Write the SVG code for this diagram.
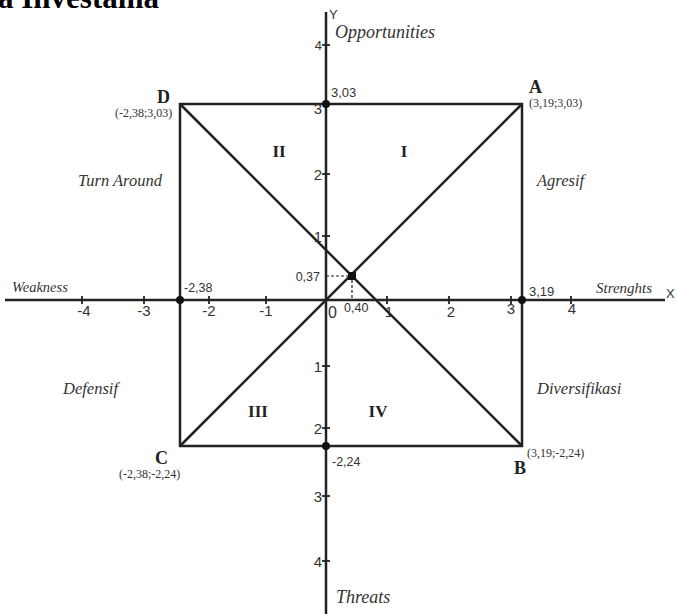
<svg xmlns="http://www.w3.org/2000/svg" width="677" height="614" viewBox="0 0 677 614">
<style>
.ln{stroke:#222;stroke-width:2.5;fill:none}
.tk{stroke:#222;stroke-width:1.8}
.dash{stroke:#222;stroke-width:1.2;stroke-dasharray:3,2;fill:none}
.num{font-family:"Liberation Sans",Arial,sans-serif;font-size:15px;fill:#333}
.sm{font-family:"Liberation Sans",Arial,sans-serif;font-size:12.5px;fill:#333}
.it{font-family:"Liberation Serif","Times New Roman",serif;font-style:italic;fill:#333}
.bl{font-family:"Liberation Serif","Times New Roman",serif;font-weight:bold;fill:#222}
.co{font-family:"Liberation Serif","Times New Roman",serif;font-size:12px;fill:#333}
.dot{fill:#111}
</style>
<rect width="677" height="614" fill="#fff"/>
<text x="-2" y="8" class="bl" style="font-size:31px;fill:#000">a Investama</text>

<g id="axes">
<line class="ln" x1="5" y1="300" x2="665" y2="300"/>
<line class="ln" x1="326" y1="12" x2="326" y2="614"/>
<g class="tk">
<line x1="82" y1="296" x2="82" y2="304"/>
<line x1="144" y1="296" x2="144" y2="304"/>
<line x1="209" y1="296" x2="209" y2="304"/>
<line x1="266" y1="296" x2="266" y2="304"/>
<line x1="387" y1="296" x2="387" y2="304"/>
<line x1="449" y1="296" x2="449" y2="304"/>
<line x1="511" y1="296" x2="511" y2="304"/>
<line x1="571" y1="296" x2="571" y2="304"/>
<line x1="322" y1="45" x2="330" y2="45"/>
<line x1="322" y1="174" x2="330" y2="174"/>
<line x1="322" y1="236" x2="330" y2="236"/>
<line x1="322" y1="366" x2="330" y2="366"/>
<line x1="322" y1="428" x2="330" y2="428"/>
<line x1="322" y1="496" x2="330" y2="496"/>
<line x1="322" y1="561" x2="330" y2="561"/>
</g>
<text x="329" y="19" class="sm" style="font-size:13px">Y</text>
<text x="666" y="298" class="sm" style="font-size:13px">X</text>
</g>

<g id="connectors">
<rect class="ln" x="180" y="104" width="342" height="342"/>
<line class="ln" x1="180" y1="104" x2="522" y2="446"/>
<line class="ln" x1="180" y1="446" x2="522" y2="104"/>
<polyline class="dash" points="326,276 352,276 352,300"/>
</g>

<g id="points">
<circle class="dot" cx="326" cy="104" r="4"/>
<circle class="dot" cx="180" cy="300" r="4"/>
<circle class="dot" cx="522" cy="300" r="4"/>
<circle class="dot" cx="326" cy="446" r="4"/>
<rect class="dot" x="348" y="272" width="8" height="8"/>
</g>

<g id="tick-labels">
<text x="84" y="316" class="num" text-anchor="middle">-4</text>
<text x="144" y="316" class="num" text-anchor="middle">-3</text>
<text x="209" y="316" class="num" text-anchor="middle">-2</text>
<text x="266" y="316" class="num" text-anchor="middle">-1</text>
<text x="328" y="318" class="num" style="font-size:16px">0</text>
<text x="389" y="317" class="num" text-anchor="middle">1</text>
<text x="451" y="317" class="num" text-anchor="middle">2</text>
<text x="511" y="314" class="num" text-anchor="middle">3</text>
<text x="572" y="314" class="num" text-anchor="middle">4</text>
<text x="322" y="50" class="num" style="font-size:13px" text-anchor="end">4</text>
<text x="322" y="114" class="num" text-anchor="end">3</text>
<text x="322" y="180" class="num" text-anchor="end">2</text>
<text x="322" y="242" class="num" text-anchor="end">1</text>
<text x="322" y="372" class="num" text-anchor="end">1</text>
<text x="322" y="434" class="num" text-anchor="end">2</text>
<text x="322" y="502" class="num" text-anchor="end">3</text>
<text x="322" y="567" class="num" text-anchor="end">4</text>
<text x="331" y="97" class="sm" style="font-size:13px">3,03</text>
<text x="184" y="292" class="sm">-2,38</text>
<text x="529" y="296" class="sm" style="font-size:13px">3,19</text>
<text x="332" y="466" class="sm">-2,24</text>
<text x="320" y="281" class="sm" text-anchor="end">0,37</text>
<text x="344" y="312" class="sm">0,40</text>
</g>

<g id="axis-labels">
<text x="335" y="38" class="it" style="font-size:18px">Opportunities</text>
<text x="336" y="603" class="it" style="font-size:18px">Threats</text>
<text x="12" y="292" class="it" style="font-size:14.5px">Weakness</text>
<text x="596" y="293" class="it" style="font-size:15px">Strenghts</text>
</g>

<g id="quadrant-labels">
<text x="78" y="186" class="it" style="font-size:16.5px">Turn Around</text>
<text x="537" y="186" class="it" style="font-size:16.5px">Agresif</text>
<text x="63" y="394" class="it" style="font-size:16.5px">Defensif</text>
<text x="537" y="394" class="it" style="font-size:16.5px">Diversifikasi</text>
<text x="279" y="157" class="bl" style="font-size:17px" text-anchor="middle">II</text>
<text x="404" y="157" class="bl" style="font-size:17px" text-anchor="middle">I</text>
<text x="258" y="417" class="bl" style="font-size:17px" text-anchor="middle">III</text>
<text x="378" y="417" class="bl" style="font-size:17px" text-anchor="middle">IV</text>
</g>

<g id="node-A">
<text x="529" y="93" class="bl" style="font-size:18px">A</text>
<text x="529" y="107" class="co">(3,19;3,03)</text>
</g>
<g id="node-B">
<text x="514" y="474" class="bl" style="font-size:18px">B</text>
<text x="527" y="457" class="co">(3,19;-2,24)</text>
</g>
<g id="node-C">
<text x="155" y="464" class="bl" style="font-size:18px">C</text>
<text x="119" y="478" class="co">(-2,38;-2,24)</text>
</g>
<g id="node-D">
<text x="157" y="103" class="bl" style="font-size:18px">D</text>
<text x="115" y="117" class="co">(-2,38;3,03)</text>
</g>
</svg>
